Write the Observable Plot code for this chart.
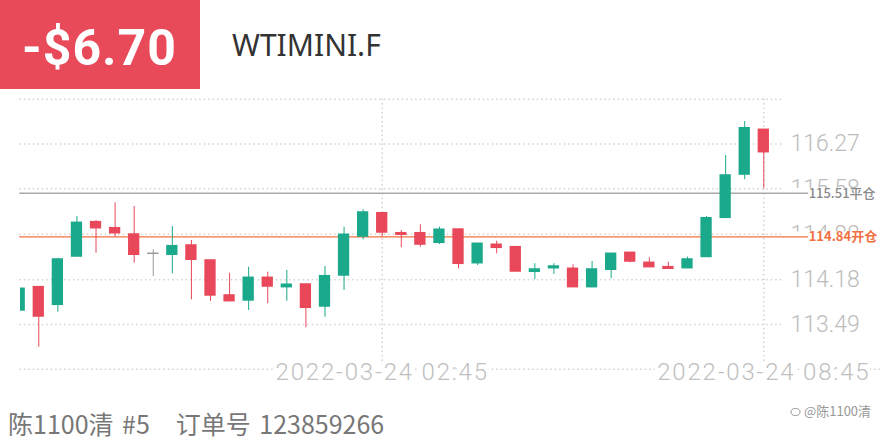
<!DOCTYPE html>
<html>
<head>
<meta charset="utf-8">
<script src="https://cdn.jsdelivr.net/npm/d3@7"></script>
<script src="https://cdn.jsdelivr.net/npm/@observablehq/plot@0.6"></script>
<style>
  html, body { margin: 0; padding: 0; background: white; overflow: hidden; }
  #page { position: relative; width: 880px; height: 440px; overflow: hidden; }
  #pnl { position: absolute; left: 0; top: 0; width: 200px; height: 89px; background: #e84a5a; }
  #pnlText { position: absolute; left: 22px; top: 23px; font: bold 50px/50px Roboto, sans-serif; color: white; letter-spacing: 1px; white-space: nowrap; }
  #sym { position: absolute; left: 232px; top: 30px; font: 400 30px/30px "Noto Sans", sans-serif; color: #333; white-space: nowrap; }
  #chart { position: absolute; left: 0; top: 90px; }
  #foot { position: absolute; left: 8px; top: 411px; font: 400 25px/25px "Noto Sans CJK SC", sans-serif; color: #777; white-space: pre; word-spacing: 3px; }
  #wm { position: absolute; left: 790px; top: 403px; font: 400 13px/15px "Noto Sans CJK SC", sans-serif; color: #999; white-space: nowrap; }
</style>
</head>
<body>
<div id="page">
  <div id="pnl"><div id="pnlText">-$6.70</div></div>
  <div id="sym">WTIMINI.F</div>
  <div id="chart"></div>
  <div id="foot">陈1100清 #5   订单号 123859266</div>
  <div id="wm"><svg width="11" height="11" viewBox="0 0 11 11" style="vertical-align:-1px"><ellipse cx="5.5" cy="6" rx="4.5" ry="3.5" fill="none" stroke="#999" stroke-width="1"/></svg> @陈1100清</div>
</div>
<script>
// ---- data ----
const opens  = [113.706, 114.065, 113.793, 114.537, 115.066, 114.973, 114.876, 114.579, 114.564, 114.707,
                114.476, 113.937, 113.860, 114.209, 114.065, 114.106, 113.767, 114.245, 114.845, 115.204,
                114.896, 114.896, 114.748, 114.953, 114.434, 114.718, 114.681, 114.302, 114.357, 114.348,
                114.065, 114.333, 114.594, 114.440, 114.373, 114.357, 114.530, 115.133, 115.800, 116.489];
const highs  = [114.050, 114.075, 114.511, 115.153, 115.092, 115.364, 115.307, 114.641, 114.999, 114.784,
                114.476, 114.280, 114.373, 114.296, 114.322, 114.106, 114.383, 114.989, 115.257, 115.204,
                114.938, 115.026, 114.989, 114.953, 114.740, 114.773, 114.681, 114.425, 114.425, 114.410,
                114.460, 114.579, 114.594, 114.517, 114.450, 114.527, 115.153, 116.093, 116.617, 116.489];
const lows   = [113.690, 113.140, 113.680, 114.537, 114.588, 114.835, 114.434, 114.229, 114.271, 113.870,
                113.844, 113.849, 113.706, 113.809, 113.849, 113.439, 113.602, 114.014, 114.795, 114.835,
                114.671, 114.681, 114.722, 114.348, 114.399, 114.579, 114.306, 114.179, 114.260, 114.065,
                114.055, 114.194, 114.440, 114.373, 114.348, 114.357, 114.530, 115.133, 115.719, 115.585];
const closes = [114.040, 113.613, 114.491, 115.056, 114.973, 114.896, 114.564, 114.579, 114.696, 114.487,
                113.937, 113.849, 114.209, 114.075, 114.102, 113.747, 114.234, 114.872, 115.215, 114.907,
                114.872, 114.722, 114.949, 114.425, 114.733, 114.671, 114.306, 114.337, 114.383, 114.065,
                114.337, 114.579, 114.460, 114.373, 114.348, 114.491, 115.127, 115.785, 116.513, 116.144];

const priceTicks = [116.27, 115.58, 114.88, 114.18, 113.49];
const gridPrices = [116.96, 116.27, 115.58, 114.88, 114.18, 113.49];
const bottomPrice = 112.80;
const timeTickIndex = [19, 39];
const timeTickLabels = ["2022-03-24 02:45", "2022-03-24 08:45"];
const positionPrices = [115.51, 114.84];
const positionLabels = ["115.51平仓", "114.84开仓"];

// ---- styles ----
const UP = "#1aa98a", DOWN = "#e8485a", FLAT = "#9a9a9a";
const GRID = "#d2d2d2";

const idx = d3.range(opens.length);
const ups = idx.filter(i => closes[i] > opens[i]);
const downs = idx.filter(i => closes[i] < opens[i]);
const flats = idx.filter(i => closes[i] === opens[i]);
const half = 0.296;

function candles(set, color) {
  return [
    Plot.ruleX(set, {x: i => i, y1: i => lows[i], y2: i => highs[i], stroke: color, strokeWidth: 1, clip: true}),
    Plot.rect(set, {x1: i => i - half, x2: i => i + half, y1: i => opens[i], y2: i => closes[i],
      fill: color, insetTop: -0.75, insetBottom: -0.75, clip: true})
  ];
}

const chart = Plot.plot({
  width: 880, height: 305,
  marginLeft: 20, marginRight: 10, marginTop: 0, marginBottom: 0,
  x: {type: "linear", domain: [0, 39], range: [19.2, 763.3], axis: null},
  y: {domain: [112.795, 116.965], range: [279.1, 8.4], label: null},
  style: {fontFamily: "Roboto, 'Noto Sans', sans-serif", overflow: "hidden", background: "white"},
  marks: [
    Plot.ruleY(gridPrices, {x1: 0, x2: 40, stroke: GRID, strokeWidth: 1.5, strokeDasharray: "1.5,3"}),
    Plot.ruleY([bottomPrice], {x1: 0, x2: 46, stroke: GRID, strokeWidth: 1.5, strokeDasharray: "1.5,3"}),
    Plot.ruleX(timeTickIndex, {x: d => d, y1: 116.965, y2: 112.90, stroke: GRID, strokeWidth: 1.5, strokeDasharray: "1.5,3"}),
    Plot.axisY(priceTicks, {anchor: "right", tickSize: 0, tickPadding: 0, dx: -80, textAnchor: "start",
      tickFormat: d => d.toFixed(2), fontSize: 23, fontWeight: 300, fill: "#bcbcbc", label: null}),
    Plot.text(timeTickIndex, {x: d => d, y: bottomPrice, dy: 3, text: (d, i) => timeTickLabels[i],
      fontSize: 24, fontWeight: 300, fill: "#c0c0c0", stroke: "white", strokeWidth: 8, clip: true}),
    Plot.rect(positionPrices, {x1: 40.15, x2: 47, y1: d => d + 0.075, y2: d => d - 0.14, fill: "white"}),
    Plot.ruleY([positionPrices[0]], {x1: 0, x2: 41.35, stroke: "#a9a9a9", strokeWidth: 1.5}),
    Plot.ruleY([positionPrices[1]], {x1: 0, x2: 41.35, stroke: "#f2703f", strokeWidth: 1.3}),
    Plot.text([positionPrices[0]], {x: 41.35, y: d => d, text: () => positionLabels[0], textAnchor: "start",
      fontSize: 13, fontWeight: 500, fill: "#8a8a8a", fontFamily: "'Noto Sans CJK SC', sans-serif"}),
    Plot.text([positionPrices[1]], {x: 41.35, y: d => d, text: () => positionLabels[1], textAnchor: "start",
      fontSize: 13, fontWeight: 600, fill: "#f2703f", fontFamily: "'Noto Sans CJK SC', sans-serif"}),
    ...candles(ups, UP),
    ...candles(downs, DOWN),
    ...candles(flats, FLAT)
  ]
});
d3.select(chart).selectAll("text")
  .filter(function() { return timeTickLabels.includes(this.textContent); })
  .attr("letter-spacing", "1.8");
document.getElementById("chart").appendChild(chart);
</script>
</body>
</html>
